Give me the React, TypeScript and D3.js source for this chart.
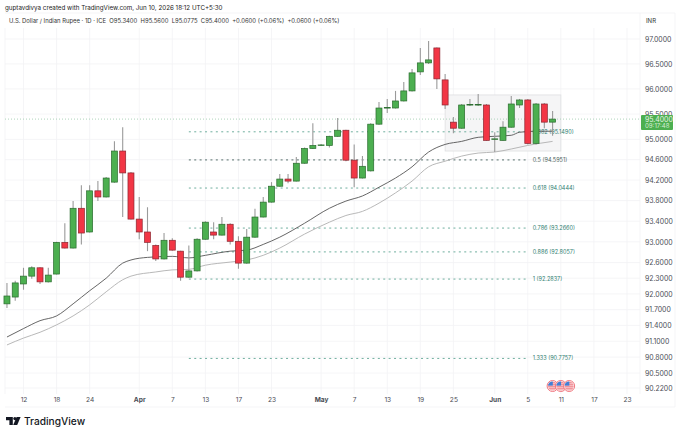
import * as d3 from 'd3';
import { useEffect, useRef } from 'react';

const opens = [91.81, 91.94, 92.19, 92.34, 92.5, 92.23, 92.38, 92.99, 92.88, 93.65, 93.19, 93.99, 93.87, 94.16, 94.77, 94.34, 93.44, 93.19, 92.93, 92.67, 93.03, 92.82, 92.32, 92.44, 93.05, 93.19, 93.13, 93.34, 93.01, 92.59, 93.09, 93.48, 93.77, 94.08, 94.22, 94.18, 94.53, 94.82, 94.88, 94.88, 95.06, 95.18, 94.59, 94.24, 94.38, 95.3, 95.62, 95.62, 95.76, 95.96, 96.34, 96.52, 96.82, 96.18, 95.34, 95.22, 95.68, 95.68, 95.68, 95.0, 94.98, 95.24, 95.68, 95.78, 94.92, 95.7, 95.34];
const closes = [91.96, 92.21, 92.34, 92.5, 92.23, 92.36, 92.99, 92.88, 93.65, 93.17, 93.99, 93.87, 94.24, 94.77, 94.34, 93.44, 93.19, 92.99, 92.67, 93.03, 92.84, 92.32, 92.44, 93.05, 93.38, 93.13, 93.34, 93.01, 92.59, 93.09, 93.48, 93.77, 94.08, 94.22, 94.18, 94.53, 94.82, 94.88, 94.89, 95.06, 95.18, 94.59, 94.24, 94.47, 95.3, 95.62, 95.63, 95.76, 95.96, 96.32, 96.52, 96.58, 96.2, 95.68, 95.22, 95.68, 95.69, 95.69, 94.98, 95.01, 95.24, 95.7, 95.78, 94.92, 95.7, 95.34, 95.4];
const highs = [92.21, 92.25, 92.5, 92.53, 92.51, 92.5, 93.0, 93.36, 93.79, 94.1, 94.1, 94.18, 94.26, 94.96, 95.24, 94.36, 93.87, 93.67, 92.95, 93.17, 93.07, 92.83, 92.93, 93.07, 93.4, 93.38, 93.48, 93.36, 93.11, 93.25, 93.64, 93.87, 94.16, 94.32, 94.32, 94.65, 94.84, 95.32, 94.91, 95.07, 95.42, 95.19, 94.9, 94.67, 95.32, 95.74, 95.8, 95.96, 96.14, 96.4, 96.82, 96.96, 96.83, 96.3, 95.44, 95.7, 95.8, 95.9, 95.7, 95.14, 95.36, 95.86, 95.8, 95.8, 95.72, 95.72, 95.56];
const lows = [91.73, 91.87, 92.08, 92.29, 92.19, 92.22, 92.37, 92.87, 92.87, 92.95, 93.18, 93.79, 93.86, 94.15, 93.48, 93.43, 93.05, 92.82, 92.63, 92.66, 92.83, 92.25, 92.31, 92.43, 93.04, 93.05, 93.12, 92.95, 92.48, 92.58, 93.08, 93.47, 93.76, 94.07, 94.14, 94.17, 94.52, 94.81, 94.87, 94.84, 95.05, 94.57, 94.06, 94.23, 94.37, 95.29, 95.52, 95.61, 95.75, 95.95, 96.28, 96.5, 96.0, 95.6, 95.12, 95.21, 95.66, 95.66, 94.97, 94.75, 94.97, 95.23, 95.62, 94.9, 94.9, 95.22, 95.07];

const fastDays = [0, 2, 4, 6, 8, 10, 12, 14, 15, 17, 20, 22, 24, 27, 29, 31, 33, 36, 39, 41, 43, 45, 47, 49, 51, 53, 55, 57, 59, 61, 62, 64, 66];
const fastValues = [91.18, 91.34, 91.49, 91.58, 91.81, 92.06, 92.3, 92.59, 92.65, 92.7, 92.72, 92.69, 92.74, 92.82, 92.84, 92.95, 93.09, 93.36, 93.65, 93.79, 93.89, 94.06, 94.24, 94.46, 94.75, 94.9, 94.96, 95.04, 95.06, 95.08, 95.14, 95.16, 95.16];
const slowDays = [0, 2, 4, 6, 8, 10, 12, 14, 15, 18, 20, 22, 24, 27, 29, 31, 33, 36, 39, 41, 43, 45, 47, 49, 51, 53, 55, 57, 59, 61, 63, 66];
const slowValues = [91.03, 91.16, 91.27, 91.41, 91.58, 91.79, 92.04, 92.27, 92.34, 92.42, 92.46, 92.47, 92.55, 92.61, 92.65, 92.74, 92.88, 93.15, 93.38, 93.51, 93.59, 93.75, 93.95, 94.18, 94.46, 94.57, 94.67, 94.73, 94.75, 94.81, 94.88, 94.96];

const fibLevels = ['0.382', '0.5', '0.618', '0.786', '0.886', '1', '1.333'];
const fibPrices = [95.149, 94.5951, 94.0444, 93.266, 92.8057, 92.2837, 90.7757];

const priceTicks = [97, 96.5, 96, 95.5, 95, 94.6, 94.2, 93.8, 93.4, 93, 92.6, 92.3, 92, 91.7, 91.4, 91.1, 90.8, 90.5, 90.22];
const dateTicks = ['2026-03-12', '2026-03-18', '2026-03-24', '2026-04-01', '2026-04-07', '2026-04-13', '2026-04-17', '2026-04-23', '2026-05-01', '2026-05-07', '2026-05-13', '2026-05-19', '2026-05-25', '2026-06-01', '2026-06-05', '2026-06-11', '2026-06-17', '2026-06-23'];
const flagDays = ['2026-06-10', '2026-06-11', '2026-06-12'];

const font = 'Inter, "Noto Sans", sans-serif';
const isoDay = d3.utcFormat('%Y-%m-%d');
const days = d3.utcDay
    .range(new Date(Date.UTC(2026, 2, 10)), new Date(Date.UTC(2026, 5, 24)))
    .filter((d) => d.getUTCDay() !== 0 && d.getUTCDay() !== 6)
    .map(isoDay);

export default function App() {
    const chartRef = useRef<SVGSVGElement | null>(null);

    useEffect(() => {
        if (!chartRef.current) return;
        const svg = d3.select(chartRef.current);
        svg.selectAll('*').remove();

        const width = 680;
        const height = 436;
        const plot = { left: 5, right: 640, top: 28, bottom: 394 };

        const x = d3.scalePoint<string>().domain(days).range([6.96, 627]);
        const y = d3.scaleLog().domain([97, 90.22]).range([39, 388]);
        const dayX = (i: number) => x(days[i])!;

        svg.attr('viewBox', `0 0 ${width} ${height}`);
        svg.append('rect').attr('width', width).attr('height', height).attr('fill', '#fff');

        // 格線
        const grid = svg.append('g').attr('stroke', '#f2f3f5').attr('stroke-width', 0.8);
        grid.selectAll('line.v')
            .data(dateTicks)
            .join('line')
            .attr('x1', (d) => x(d)!)
            .attr('x2', (d) => x(d)!)
            .attr('y1', plot.top)
            .attr('y2', plot.bottom);
        grid.selectAll('line.h')
            .data(priceTicks)
            .join('line')
            .attr('class', 'h')
            .attr('x1', plot.left)
            .attr('x2', plot.right)
            .attr('y1', (d) => y(d))
            .attr('y2', (d) => y(d));
        grid.append('path').attr('fill', 'none').attr('d', `M${plot.left},${plot.top}V${plot.bottom}M${plot.right},13V${plot.bottom}M5,13H675V407H5`);

        // 盤整方框
        const boxTop = y(95.88);
        const boxBottom = y(94.77);
        svg.append('rect')
            .attr('x', dayX(53))
            .attr('y', boxTop)
            .attr('width', dayX(67) - dayX(53))
            .attr('height', boxBottom - boxTop)
            .attr('fill', '#f5f5f6')
            .attr('stroke', '#dedfe1')
            .attr('stroke-width', 0.8);

        // 現價虛線
        svg.append('line')
            .attr('x1', plot.left)
            .attr('x2', plot.right)
            .attr('y1', y(95.4))
            .attr('y2', y(95.4))
            .attr('stroke', '#a5cfb4')
            .attr('stroke-width', 0.9)
            .attr('stroke-dasharray', '1 2');

        // Fibonacci
        const fib = svg.append('g');
        fib.selectAll('line')
            .data(fibPrices)
            .join('line')
            .attr('x1', dayX(22))
            .attr('x2', dayX(63))
            .attr('y1', (d) => y(d))
            .attr('y2', (d) => y(d))
            .attr('stroke', (_, i) => (fibLevels[i] === '0.5' ? '#56706b' : '#6fae9e'))
            .attr('stroke-width', 1)
            .attr('stroke-dasharray', '2 3.4');
        fib.selectAll('text')
            .data(fibPrices)
            .join('text')
            .attr('x', dayX(63) + 5)
            .attr('y', (d) => y(d) + 2)
            .attr('font-family', font)
            .attr('font-size', 5.5)
            .attr('fill', (_, i) => (fibLevels[i] === '0.5' ? '#4c5f5b' : '#2f8071'))
            .text((d, i) => `${fibLevels[i]} (${d3.format('.4f')(d)})`);

        // 均線
        const line = d3
            .line<number>()
            .x((_, i) => i)
            .curve(d3.curveMonotoneX);
        const drawAverage = (dayList: number[], values: number[], color: string, w: number) => {
            svg.append('path')
                .attr('fill', 'none')
                .attr('stroke', color)
                .attr('stroke-width', w)
                .attr('d', line.x((_, i) => dayX(dayList[i])).y((d) => y(d))(values));
        };
        drawAverage(slowDays, slowValues, '#b0b0b0', 0.9);
        drawAverage(fastDays, fastValues, '#555555', 0.9);

        // K 線
        const candleWidth = 6;
        const candles = svg.append('g');
        candles.selectAll('line')
            .data(opens)
            .join('line')
            .attr('x1', (_, i) => dayX(i))
            .attr('x2', (_, i) => dayX(i))
            .attr('y1', (_, i) => y(highs[i]))
            .attr('y2', (_, i) => y(lows[i]))
            .attr('stroke', '#9a9a9a')
            .attr('stroke-width', 1.1);
        candles.selectAll('rect')
            .data(opens)
            .join('rect')
            .attr('x', (_, i) => dayX(i) - candleWidth / 2)
            .attr('y', (d, i) => y(Math.max(d, closes[i])))
            .attr('width', candleWidth)
            .attr('height', (d, i) => Math.max(0.6, y(Math.min(d, closes[i])) - y(Math.max(d, closes[i]))))
            .attr('fill', (d, i) => (closes[i] >= d ? '#4caf50' : '#f23645'))
            .attr('stroke', (d, i) => (closes[i] >= d ? '#2a6b2e' : '#8c2630'))
            .attr('stroke-width', 0.7);

        // 軸
        const xAxis = svg.append('g')
            .attr('transform', 'translate(0,395.5)')
            .call(
                d3
                    .axisBottom(x)
                    .tickValues(dateTicks)
                    .tickSize(0)
                    .tickPadding(0)
                    .tickFormat((d) => {
                        const date = new Date(`${d}T00:00:00Z`);
                        return date.getUTCDate() === 1 ? d3.utcFormat('%b')(date) : String(date.getUTCDate());
                    }),
            );
        xAxis.select('.domain').remove();
        xAxis.selectAll('text')
            .attr('y', 0)
            .attr('dy', '0.95em')
            .attr('font-family', font)
            .attr('font-size', 6.6)
            .attr('fill', '#4a4d55')
            .attr('font-weight', (d) => (String(d).endsWith('-01') ? 700 : 400));

        const yAxis = svg.append('g')
            .attr('transform', 'translate(645,0)')
            .call(d3.axisRight(y).tickValues(priceTicks).tickSize(0).tickPadding(0).tickFormat(d3.format('.4f') as any));
        yAxis.select('.domain').remove();
        yAxis.selectAll('text')
            .attr('font-family', font)
            .attr('font-size', 6.9)
            .attr('fill', '#4a4d55');

        // 現價標籤
        svg.append('rect').attr('x', 641).attr('y', 115).attr('width', 32).attr('height', 15).attr('rx', 1).attr('fill', '#4caf50');
        svg.append('text').attr('x', 645).attr('y', 121.6).attr('font-family', font).attr('font-size', 6.9).attr('fill', '#e6f4e6').text('95.4000');
        svg.append('text').attr('x', 645).attr('y', 128.2).attr('font-family', font).attr('font-size', 6.1).attr('fill', '#d5ecd5').text('09:17:48');

        // 美國旗
        const defs = svg.append('defs');
        const flags = svg.append('g');
        flagDays.forEach((d, i) => {
            const cx = x(d)!;
            defs.append('clipPath').attr('id', `flag${i}`).append('circle').attr('cx', cx).attr('cy', 386).attr('r', 4.6);
            const flag = flags.append('g');
            flag.append('circle').attr('cx', cx).attr('cy', 386).attr('r', 5.5).attr('fill', '#fff').attr('stroke', '#ee6a73').attr('stroke-width', 0.9);
            const inner = flag.append('g').attr('clip-path', `url(#flag${i})`);
            d3.range(5).forEach((k) => {
                inner.append('rect').attr('x', cx - 5).attr('y', 381.6 + k * 2).attr('width', 10).attr('height', 1).attr('fill', '#e8505c');
            });
            inner.append('rect').attr('x', cx - 5).attr('y', 381).attr('width', 5.2).attr('height', 4.6).attr('fill', '#3f7fd6');
        });

        // 標題
        svg.append('text').attr('x', 5).attr('y', 10).attr('font-family', font).attr('font-size', 6.25).attr('fill', '#222').text('guptavdivya created with TradingView.com, Jun 10, 2026 18:12 UTC+5:30');
        svg.append('text').attr('x', 9).attr('y', 23.3).attr('font-family', font).attr('font-size', 5.9).attr('fill', '#333').attr('xml:space', 'preserve')
            .text('U.S. Dollar / Indian Rupee · 1D · ICE  O95.3400  H95.5600  L95.0775  C95.4000  +0.0600 (+0.06%)  +0.0600 (+0.06%)');
        svg.append('text').attr('x', 646).attr('y', 23.3).attr('font-family', font).attr('font-size', 6).attr('fill', '#333').text('INR');

        // Logo
        const logo = svg.append('g').attr('fill', '#131722');
        logo.append('path').attr('d', 'M6,417H12.8V425H9.4V420.2H6Z');
        logo.append('circle').attr('cx', 14.9).attr('cy', 418.6).attr('r', 1.6);
        logo.append('path').attr('d', 'M16.6,417H20.6L17.2,425H13.2Z');
        svg.append('text').attr('x', 24).attr('y', 425).attr('font-family', font).attr('font-size', 10.2).attr('font-weight', 500).attr('fill', '#131722').text('TradingView');
    }, []);

    return <svg ref={chartRef} width={680} height={436} style={{ position: 'fixed', left: 0, top: 0, display: 'block' }} />;
}
